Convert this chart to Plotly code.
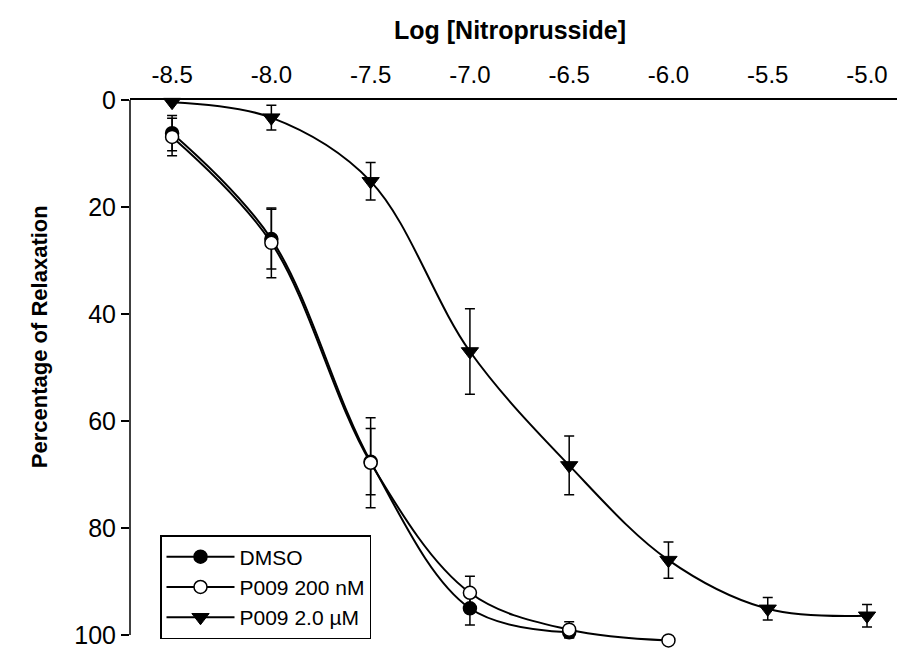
import plotly.graph_objects as go

# Log molar concentration of nitroprusside
log_conc = [-8.5, -8.0, -7.5, -7.0, -6.5, -6.0, -5.5, -5.0]

# DMSO vehicle
dmso_x = [-8.5, -8.0, -7.5, -7.0, -6.5]
dmso_y = [6.2, 26.0, 67.6, 95.0, 99.5]
dmso_err = [3.3, 5.6, 6.2, 3.1, 1.0]

# P009 200 nM
p200_x = [-8.5, -8.0, -7.5, -7.0, -6.5, -6.0]
p200_y = [6.9, 26.7, 67.8, 92.1, 99.0, 101.0]
p200_err = [3.5, 6.5, 8.4, 3.1, 1.5, 0.0]

# P009 2.0 uM
p2u_x = log_conc
p2u_y = [0.4, 3.3, 15.2, 47.0, 68.3, 86.0, 95.1, 96.4]
p2u_err = [0.0, 2.3, 3.5, 8.0, 5.5, 3.4, 2.1, 2.1]

x_ticks = [-8.5, -8.0, -7.5, -7.0, -6.5, -6.0, -5.5, -5.0]
y_ticks = [0, 20, 40, 60, 80, 100]

W, H = 901, 651
ML, MR, MT, MB = 130, 4, 100, 2
PW, PH = W - ML - MR, H - MT - MB
Y_MAX = PH / 5.37  # 5.37 px per percentage point

FONT = "Liberation Sans, Arial, sans-serif"


def px_to_paper_x(px):
    return (px - ML) / PW


def px_to_paper_y(py):
    return 1 - (py - MT) / PH


def err(vals):
    return dict(type="data", array=vals, visible=True, color="black",
                thickness=1.5, width=5)


fig = go.Figure()
fig.add_trace(go.Scatter(
    x=dmso_x, y=dmso_y, name="DMSO", mode="lines+markers",
    line=dict(color="black", width=2, shape="spline", smoothing=1.0),
    marker=dict(symbol="circle", size=13, color="black",
                line=dict(color="black", width=1.5)),
    error_y=err(dmso_err), cliponaxis=False,
))
fig.add_trace(go.Scatter(
    x=p200_x, y=p200_y, name="P009 200 nM", mode="lines+markers",
    line=dict(color="black", width=2, shape="spline", smoothing=1.0),
    marker=dict(symbol="circle", size=13, color="white",
                line=dict(color="black", width=1.5)),
    error_y=err(p200_err), cliponaxis=False,
))
fig.add_trace(go.Scatter(
    x=p2u_x, y=p2u_y, name="P009 2.0 \u00b5M", mode="lines+markers",
    line=dict(color="black", width=2, shape="spline", smoothing=1.0),
    marker=dict(symbol="triangle-down", size=15, color="black",
                line=dict(color="black", width=1)),
    error_y=err(p2u_err), cliponaxis=False,
))

# left axis line spans only 0..100
fig.add_shape(type="line", xref="paper", yref="y", x0=0, x1=0, y0=0, y1=100,
              line=dict(color="black", width=1.5))

fig.update_layout(
    width=W, height=H,
    margin=dict(l=ML, r=MR, t=MT, b=MB),
    paper_bgcolor="white", plot_bgcolor="white",
    font=dict(family=FONT, color="black", size=22),
    showlegend=True,
    legend=dict(
        x=px_to_paper_x(160), y=px_to_paper_y(641), xanchor="left", yanchor="bottom",
        bgcolor="white", bordercolor="black", borderwidth=1.5,
        font=dict(family=FONT, size=21), itemwidth=68, tracegroupgap=0,
    ),
    title=dict(text="<b>Log [Nitroprusside]</b>", x=510 / W, xref="container",
               y=1 - 30 / H, yref="container", xanchor="center", yanchor="middle",
               font=dict(family=FONT, size=25)),
    xaxis=dict(
        side="top", range=[-8.712, -4.849], tickvals=x_ticks,
        ticktext=[f"{v:.1f}" for v in x_ticks], showgrid=False, zeroline=False,
        showline=True, linecolor="black", linewidth=2, ticks="",
        ticklabelstandoff=5, tickfont=dict(size=24),
    ),
    yaxis=dict(
        range=[Y_MAX, 0], tickvals=y_ticks, showgrid=False, zeroline=False,
        showline=False, ticks="outside", ticklen=8, tickwidth=1.5,
        tickcolor="black", tickfont=dict(size=25), ticklabeloverflow="allow",
    ),
    annotations=[dict(
        text="<b>Percentage of Relaxation</b>", textangle=-90,
        xref="paper", yref="paper", x=px_to_paper_x(39), y=px_to_paper_y(338),
        xanchor="center", yanchor="middle", showarrow=False,
        font=dict(family=FONT, size=22),
    )],
)

fig.write_html("out.html")
